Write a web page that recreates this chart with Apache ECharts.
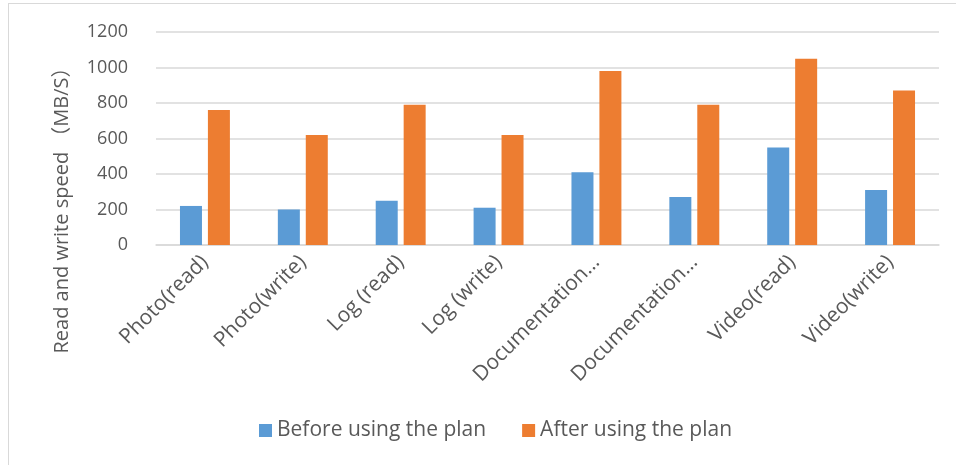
<!DOCTYPE html>
<html>
<head>
<meta charset="utf-8">
<script src="https://cdn.jsdelivr.net/npm/echarts@6/dist/echarts.min.js"></script>
<style>
  html, body { margin: 0; padding: 0; background: #fff; overflow: hidden; }
  #chart { position: absolute; left: 0; top: 0; width: 956px; height: 465px; }
  #frame { position: absolute; left: 8px; top: 3px; width: 1200px; height: 800px;
           border-left: 1px solid #d9d9d9; border-top: 1px solid #d9d9d9; pointer-events: none; }
</style>
</head>
<body>
<div id="chart"></div>
<div id="frame"></div>
<script>
// 类别
var categories = ['Photo(read)', 'Photo(write)', 'Log (read)', 'Log (write)',
    'Documentation(read)', 'Documentation(write)', 'Video(read)', 'Video(write)'];
// 方案前后
var beforePlan = [220, 200, 250, 210, 410, 270, 550, 310];
var afterPlan = [760, 620, 790, 620, 980, 790, 1050, 870];
var seriesNames = ['Before using the plan', 'After using the plan'];

var font = '"Open Sans", "Noto Sans CJK SC", sans-serif';
var txt = '#595959';

var chartColumnar = {
    color: ['#5b9bd5', '#ed7d31'],
    animation: false,
    textStyle: { fontFamily: font, color: txt },
    legend: {
        left: 254,
        top: 415,
        itemWidth: 13,
        itemHeight: 13,
        itemGap: 36,
        icon: 'rect',
        textStyle: { fontFamily: font, color: txt, fontSize: 21 }
    },
    grid: {
        left: 156,
        right: 17,
        top: 32,
        bottom: 220,
        containLabel: false,
        outerBoundsMode: 'none'
    },
    xAxis: {
        type: 'category',
        data: categories,
        axisTick: { show: false },
        axisLine: { lineStyle: { color: '#d9d9d9', width: 1.5 } },
        axisLabel: {
            rotate: 45,
            interval: 0,
            margin: 14,
            color: txt,
            fontFamily: font,
            fontSize: 21,
            width: 174,
            overflow: 'truncate',
            ellipsis: '…'
        }
    },
    yAxis: {
        type: 'value',
        min: 0,
        max: 1200,
        interval: 200,
        name: 'Read and write speed （MB/S）',
        nameLocation: 'middle',
        nameGap: 84,
        nameTextStyle: { fontFamily: font, color: txt, fontSize: 20, padding: [0, 134, 0, 0] },
        axisLine: { show: false },
        axisTick: { show: false },
        axisLabel: {
            color: txt, fontFamily: font, fontSize: 18, margin: 28,
            formatter: function (v) { return String(v); }
        },
        splitLine: { lineStyle: { color: '#d9d9d9', width: 1.5 } }
    },
    series: [
        {
            name: seriesNames[0],
            type: 'bar',
            data: beforePlan,
            barWidth: 22,
            barGap: '27%'
        },
        {
            name: seriesNames[1],
            type: 'bar',
            data: afterPlan,
            barWidth: 22,
            barGap: '27%'
        }
    ]
};

var myChart = echarts.init(document.getElementById('chart'));
myChart.setOption(chartColumnar);
</script>
</body>
</html>
